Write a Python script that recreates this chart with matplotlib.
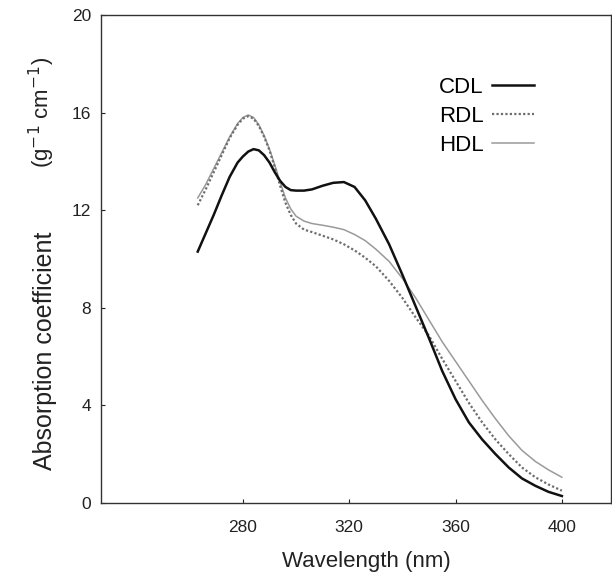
import numpy as np
import matplotlib
matplotlib.use("Agg")
import matplotlib.pyplot as plt

plt.rcParams['font.family'] = ['Liberation Sans', 'DejaVu Sans']

# wavelength (nm) and absorption coefficient
wl = [263, 266, 269, 272, 275, 278, 280, 282, 284, 286, 288, 290, 292, 294, 296,
      298, 300, 303, 306, 310, 314, 318, 322, 326, 330, 335, 340, 345, 350, 355,
      360, 365, 370, 375, 380, 385, 390, 395, 400]

cdl = [10.3, 11.05, 11.8, 12.6, 13.36, 13.95, 14.2, 14.4, 14.5, 14.45, 14.25, 13.95,
       13.55, 13.2, 12.95, 12.82, 12.8, 12.8, 12.85, 13.0, 13.12, 13.15, 12.95, 12.4,
       11.65, 10.6, 9.35, 8.05, 6.75, 5.4, 4.25, 3.3, 2.6, 2.0, 1.45, 1.0, 0.7, 0.45,
       0.28]

rdl = [12.2, 12.85, 13.55, 14.25, 14.95, 15.5, 15.75, 15.85, 15.75, 15.45, 15.0, 14.45,
       13.75, 13.0, 12.3, 11.8, 11.45, 11.2, 11.1, 10.95, 10.8, 10.6, 10.35, 10.05,
       9.7, 9.1, 8.4, 7.6, 6.85, 5.9, 5.0, 4.1, 3.3, 2.6, 2.0, 1.45, 1.05, 0.75, 0.5]

hdl = [12.5, 13.05, 13.7, 14.35, 15.0, 15.55, 15.8, 15.9, 15.8, 15.5, 15.05, 14.5,
       13.85, 13.15, 12.5, 12.05, 11.75, 11.55, 11.45, 11.38, 11.3, 11.2, 11.0, 10.75,
       10.4, 9.9, 9.2, 8.4, 7.5, 6.6, 5.8, 5.0, 4.2, 3.45, 2.75, 2.15, 1.7, 1.35, 1.05]

xticks = [280, 320, 360, 400]
yticks = [0, 4, 8, 12, 16, 20]

fig = plt.figure(figsize=(6.12, 5.76), dpi=100)
ax = fig.add_axes([0.165, 0.127, 0.833, 0.847])

ax.plot(wl, hdl, color='#9a9a9a', lw=1.1, label='HDL', solid_joinstyle='round')
ax.plot(wl, rdl, color='#6e6e6e', lw=1.6, ls=(0, (1, 1)), label='RDL')
ax.plot(wl, cdl, color='#111111', lw=1.8, label='CDL', solid_joinstyle='round')

ax.set_xlim(226.6, 418.4)
ax.set_ylim(0, 20)
ax.set_xticks(xticks)
ax.set_yticks(yticks)
ax.tick_params(direction='in', length=3, width=0.8, labelsize=12.5, colors='#222222')
ax.tick_params(axis='x', pad=12)
ax.tick_params(axis='y', pad=7)
for s in ax.spines.values():
    s.set_linewidth(1.0)
    s.set_color('#333333')

ax.set_xlabel('Wavelength (nm)', fontsize=16, color='#222222')
ax.xaxis.set_label_coords(0.52, -0.098)

# y label in two pieces, as in the original
ax.set_ylabel('Absorption coefficient', fontsize=18, color='#222222')
ax.yaxis.set_label_coords(-0.086, 0.311)
ax.text(-0.086, 0.801, '(g$^{-1}$ cm$^{-1}$)', transform=ax.transAxes, fontsize=16,
        color='#222222', rotation=90, rotation_mode='anchor', ha='center', va='bottom')

handles, labels = ax.get_legend_handles_labels()
order = [2, 1, 0]
leg = ax.legend([handles[i] for i in order], [labels[i] for i in order],
                loc='upper left', bbox_to_anchor=(0.624, 0.914), frameon=False,
                markerfirst=False, fontsize=16, handlelength=1.9,
                labelspacing=0.36, handletextpad=0.36)

fig.savefig('out.png', dpi=100)
